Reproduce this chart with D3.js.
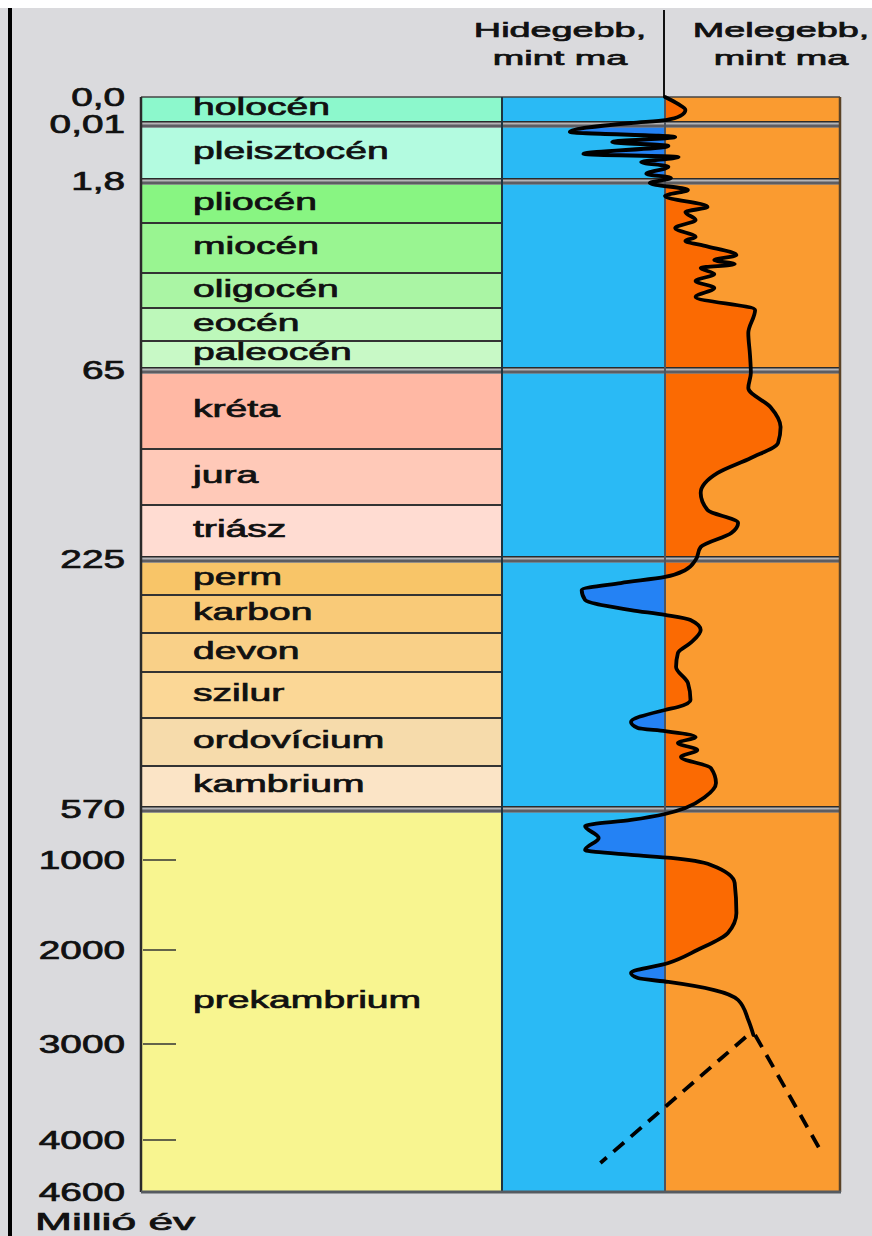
<!DOCTYPE html>
<html><head><meta charset="utf-8">
<script src="https://cdn.jsdelivr.net/npm/d3@7"></script>
<style>html,body{margin:0;padding:0;background:#dadadd;} svg{display:block}</style>
</head><body><svg id="c" width="872" height="1236"></svg>
<script>
// ---------- DATA ----------
const periodNames = ["holocén","pleisztocén","pliocén","miocén","oligocén","eocén","paleocén","kréta","jura","triász","perm","karbon","devon","szilur","ordovícium","kambrium","prekambrium"];
const periodStart = [0, 0.01, 1.8, 5, 24, 38, 55, 65, 136, 190, 225, 280, 345, 395, 430, 500, 570];
const periodEnd   = [0.01, 1.8, 5, 24, 38, 55, 65, 136, 190, 225, 280, 345, 395, 430, 500, 570, 4600];
const periodColors = ["#8cf8cc","#b3fbe0","#88f582","#99f591","#aaf5a4","#bdf8ba","#c8f9c6","#ffb8a4","#ffc9b8","#ffdcd2","#f8c568","#f9ca78","#f9d088","#fbd796","#f6dbab","#fbe4c6","#f8f590"];
const majorBoundaries = [0.01, 1.8, 65, 225, 570];
const axisTickAges = [0, 0.01, 1.8, 65, 225, 570, 1000, 2000, 3000, 4000, 4600];
const axisTickLabels = ["0,0","0,01","1,8","65","225","570","1000","2000","3000","4000","4600"];
const minorTickAges = [1000, 2000, 3000, 4000];
const headerCold = ["Hidegebb,", "mint ma"];
const headerWarm = ["Melegebb,", "mint ma"];
const axisTitle = "Millió év";
// temperature deviation from today (relative units, + warmer, - colder)
const curveAge = [0,0.0029,0.0054,0.0079,0.0096,0.073,0.355,0.512,0.669,0.795,1.046,1.14,1.30,1.45,1.67,1.8,2.16,2.65,3.08,3.86,4.22,4.79,6.9,10.3,11.8,13.7,17.2,19.1,20.6,22.1,24.4,27.2,30,33.6,39,50.9,60.4,70.2,83.2,99.6,117,130.8,144.7,159.1,178.4,193.4,202.3,209.2,218.8,230.6,244.7,254.6,263.1,273,288.6,305.7,314.2,322.8,339.9,357.8,370.6,388.5,403.4,416.3,421.6,423.9,435.8,444.6,449,457.7,466.5,476.7,486.9,503.5,529.8,554.3,585.9,633.7,681.4,729.2,824.7,920.2,960,983.9,1055.5,1255.5,1588.8,1811,2000,2138,2245,2298,2340,2426,2532,2745,2904];
const curveValue = [0,0.76,1.2,0.9,0.05,-2.0,-5.6,0.6,-3.1,0.2,-4.8,0.8,-1.4,0.2,-1.1,0.35,-0.9,1.35,0,2.5,1.2,1.8,0.6,1.8,1.2,2.35,4.2,2.9,4.1,2.1,2.9,1.8,2.9,1.8,5.3,4.9,5.0,5.05,4.9,6.2,6.8,6.65,5.05,3.1,2.1,2.5,4.3,3.9,2.1,1.8,1.2,0,-2.6,-4.9,-4.7,-2.0,0,1.5,2.1,1.5,0.76,0.65,1.35,1.5,0.76,0,-2.0,-1.6,0,1.8,0.76,1.9,0.94,2.7,3.0,2.35,1.2,0,-2.0,-4.7,-3.9,-4.7,-2.0,0.35,2.7,4.1,4.2,3.7,1.9,0.2,-2.0,-1.6,0.2,2.9,4.3,4.9,5.2];
const fillUntilAge = 2340;
const dashLeftAge = [2926, 4265], dashLeftValue = [4.75, -3.8];
const dashRightAge = [2904, 4173], dashRightValue = [5.3, 9.3];

// ---------- LAYOUT ----------
const W = 872, H = 1236;
const svg = d3.select("#c");
const stripeL = 141, periodR = 502, stripeR = 840;
const gap = 6.5;
// piecewise (non-linear) time scale of the chart
const y = d3.scaleLinear()
  .domain([0,0.01,1.8,5,24,38,55,65,136,190,225,280,345,395,430,500,570,1000,2000,3000,4000,4600])
  .range([97,121,178,223,273,308,341,367,449,505,556,595,633,672,718,766,806,860,950,1044,1140,1192]);
const x = d3.scaleLinear().domain([-10, 10]).range([495, 835]);
const x0 = x(0);
const isMajor = a => majorBoundaries.includes(a);

svg.append("rect").attr("width", W).attr("height", H).attr("fill", "#dadadd");
svg.append("rect").attr("width", W).attr("height", 8).attr("fill", "#ffffff");
svg.append("rect").attr("x", 8).attr("y", 8).attr("width", 4).attr("height", H - 8).attr("fill", "#000");

const periods = periodNames.map((n, i) => ({name: n, start: periodStart[i], end: periodEnd[i], color: periodColors[i]}));
const pTop = d => y(d.start) + (isMajor(d.start) ? gap : 0);

// period cells
svg.append("g").selectAll("rect").data(periods).join("rect")
  .attr("x", stripeL).attr("width", periodR - stripeL)
  .attr("y", pTop).attr("height", d => y(d.end) - pTop(d))
  .attr("fill", d => d.color);

// cold / warm columns
svg.append("rect").attr("x", periodR).attr("y", y(0)).attr("width", x0 - periodR).attr("height", y(4600) - y(0)).attr("fill", "#2abaf5");
svg.append("rect").attr("x", x0).attr("y", y(0)).attr("width", stripeR - x0).attr("height", y(4600) - y(0)).attr("fill", "#fa9b30");

// clip paths
const defs = svg.append("defs");
defs.append("clipPath").attr("id", "cold").append("rect").attr("x", 0).attr("y", 0).attr("width", x0).attr("height", H);
defs.append("clipPath").attr("id", "warm").append("rect").attr("x", x0).attr("y", 0).attr("width", W - x0).attr("height", H);

const pts = curveAge.map((a, i) => ({age: a, v: curveValue[i]}));
const fillPts = pts.filter(d => d.age <= fillUntilAge);
const area = d3.area().curve(d3.curveMonotoneY).y(d => y(d.age)).x0(x0).x1(d => x(d.v));
svg.append("path").datum(fillPts).attr("d", area).attr("fill", "#2482f4").attr("clip-path", "url(#cold)");
svg.append("path").datum(fillPts).attr("d", area).attr("fill", "#fb6a02").attr("clip-path", "url(#warm)");

// single boundaries inside eras
const minor = periods.slice(1).map(d => d.start).filter(a => !isMajor(a));
svg.append("g").selectAll("line").data(minor).join("line")
  .attr("x1", stripeL).attr("x2", periodR).attr("y1", d => y(d)).attr("y2", d => y(d))
  .attr("stroke", "#333").attr("stroke-width", 2);

// double boundaries
const mg = svg.append("g").selectAll("g").data(majorBoundaries).join("g");
mg.append("rect").attr("x", stripeL).attr("width", stripeR - stripeL).attr("y", d => y(d)).attr("height", gap).attr("fill", "#b4b4b6");
mg.append("line").attr("x1", stripeL).attr("x2", stripeR).attr("y1", d => y(d) + 0.8).attr("y2", d => y(d) + 0.8).attr("stroke", "#2a2a2a").attr("stroke-width", 1.6);
mg.append("line").attr("x1", stripeL).attr("x2", stripeR).attr("y1", d => y(d) + gap - 1.5).attr("y2", d => y(d) + gap - 1.5).attr("stroke", "#5d5d62").attr("stroke-width", 3);

// frame
const frame = svg.append("g").attr("fill", "none");
frame.append("line").attr("x1", stripeL).attr("x2", stripeR).attr("y1", y(0)).attr("y2", y(0)).attr("stroke", "#444").attr("stroke-width", 1.5);
frame.append("line").attr("x1", stripeL).attr("x2", stripeL).attr("y1", y(0)).attr("y2", y(4600)).attr("stroke", "#2a2a2a").attr("stroke-width", 2.5);
frame.append("line").attr("x1", periodR).attr("x2", periodR).attr("y1", y(0)).attr("y2", y(4600)).attr("stroke", "#1d3440").attr("stroke-width", 2);
frame.append("line").attr("x1", x0).attr("x2", x0).attr("y1", y(0)).attr("y2", y(4600)).attr("stroke", "#4d5560").attr("stroke-width", 2);
frame.append("line").attr("x1", x0 - 1).attr("x2", x0 - 1).attr("y1", 10).attr("y2", y(0)).attr("stroke", "#111").attr("stroke-width", 2);
frame.append("line").attr("x1", stripeR).attr("x2", stripeR).attr("y1", y(0)).attr("y2", y(4600)).attr("stroke", "#5a4226").attr("stroke-width", 2.5);
frame.append("line").attr("x1", stripeL).attr("x2", stripeR + 1).attr("y1", y(4600)).attr("y2", y(4600)).attr("stroke", "#555a60").attr("stroke-width", 3);

// minor ticks in Precambrian
svg.append("g").selectAll("line").data(minorTickAges).join("line")
  .attr("x1", stripeL + 2).attr("x2", 176).attr("y1", d => y(d)).attr("y2", d => y(d))
  .attr("stroke", "#333").attr("stroke-width", 1.5);

// temperature curve
const line = d3.line().curve(d3.curveMonotoneY).y(d => y(d.age)).x(d => x(d.v));
svg.append("path").datum(pts).attr("d", line).attr("fill", "none").attr("stroke", "#000")
  .attr("stroke-width", 3.8).attr("stroke-linejoin", "round").attr("stroke-linecap", "round");
const dashes = [
  dashLeftAge.map((a, i) => ({age: a, v: dashLeftValue[i]})),
  dashRightAge.map((a, i) => ({age: a, v: dashRightValue[i]}))
];
svg.append("g").selectAll("path").data(dashes).join("path")
  .attr("d", d3.line().y(d => y(d.age)).x(d => x(d.v)))
  .attr("fill", "none").attr("stroke", "#000").attr("stroke-width", 3.8).attr("stroke-dasharray", "14 9");

// ---------- TEXT ----------
const font = "'Liberation Sans', Arial, sans-serif";
function place(sel, tx, ty, sx) {
  return sel.attr("transform", `translate(${tx},${ty}) scale(${sx},1)`)
    .attr("stroke", "#111").attr("stroke-width", 0.7).attr("paint-order", "stroke");
}

svg.append("g").selectAll("text").data(periods).join("text")
  .text(d => d.name)
  .attr("font-family", font).attr("font-size", 24).attr("fill", "#111").attr("dy", "0.25em")
  .each(function(d) { place(d3.select(this), 193, (pTop(d) + y(d.end)) / 2, 1.63); });

svg.append("g").selectAll("text").data(axisTickAges).join("text")
  .text((d, i) => axisTickLabels[i])
  .attr("font-family", font).attr("font-size", 25).attr("fill", "#111").attr("text-anchor", "end").attr("dy", "0.36em")
  .each(function(d) { place(d3.select(this), 125, y(d) + (isMajor(d) ? 3 : 0), 1.55); });

[[headerCold, 560], [headerWarm, 781]].forEach(([lines, cx]) => {
  lines.forEach((t, i) => {
    place(svg.append("text").text(t).attr("font-family", font).attr("font-size", 21).attr("fill", "#111")
      .attr("text-anchor", "middle"), cx, 37 + i * 28, 1.8);
  });
});

place(svg.append("text").text(axisTitle).attr("font-family", font).attr("font-size", 24).attr("fill", "#111"), 35, 1230, 1.85);
</script></body></html>
